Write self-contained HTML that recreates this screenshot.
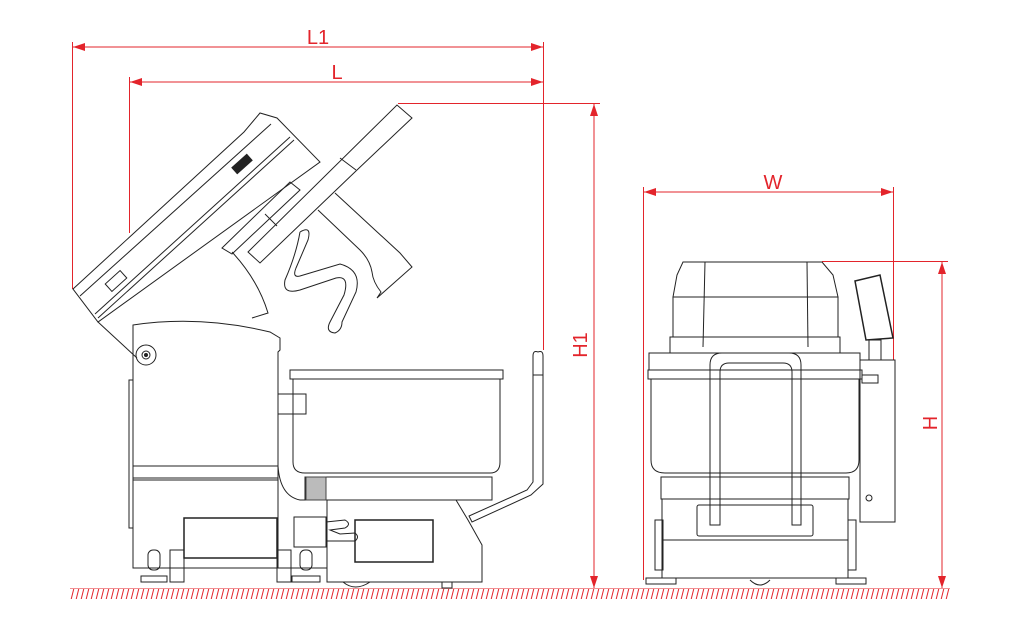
<!DOCTYPE html>
<html><head><meta charset="utf-8"><style>
html,body{margin:0;padding:0;background:#fff;width:1012px;height:629px;overflow:hidden}
svg{display:block}
text{font-family:"Liberation Sans",sans-serif;fill:#e3242b}
</style></head><body>
<svg width="1012" height="629" viewBox="0 0 1012 629" xmlns="http://www.w3.org/2000/svg">
<defs>
<pattern id="h" width="5" height="12" patternUnits="userSpaceOnUse">
<line x1="4" y1="0" x2="1" y2="12" stroke="#e3242b" stroke-width="1"/>
</pattern>
<marker id="a" markerWidth="12" markerHeight="8" refX="12" refY="4" orient="auto-start-reverse" markerUnits="userSpaceOnUse">
<path d="M0,0 L12,4 L0,8 Z" fill="#e3242b"/>
</marker>
</defs>
<rect x="70" y="589" width="880" height="10" fill="url(#h)"/>
<line x1="70" y1="588.5" x2="950" y2="588.5" stroke="#e3242b" stroke-width="0.6"/>
<g stroke="#e3242b" stroke-width="1" fill="none">
<line x1="73" y1="47" x2="543" y2="47" marker-start="url(#a)" marker-end="url(#a)"/>
<line x1="130" y1="82" x2="543" y2="82" marker-start="url(#a)" marker-end="url(#a)"/>
<line x1="72.5" y1="42" x2="72.5" y2="289"/>
<line x1="129.5" y1="77" x2="129.5" y2="233"/>
<line x1="543.5" y1="42" x2="543.5" y2="350"/>
<line x1="398" y1="103.5" x2="600" y2="103.5"/>
<line x1="594" y1="104" x2="594" y2="588" marker-start="url(#a)" marker-end="url(#a)"/>
<line x1="644" y1="192" x2="893" y2="192" marker-start="url(#a)" marker-end="url(#a)"/>
<line x1="643.5" y1="187" x2="643.5" y2="580"/>
<line x1="893.5" y1="187" x2="893.5" y2="360"/>
<line x1="822" y1="261.5" x2="948" y2="261.5"/>
<line x1="942" y1="262" x2="942" y2="588" marker-start="url(#a)" marker-end="url(#a)"/>
</g>
<text x="318" y="44" font-size="20" text-anchor="middle">L1</text>
<text x="337" y="79" font-size="20" text-anchor="middle">L</text>
<text x="773" y="189" font-size="20" text-anchor="middle">W</text>
<text transform="translate(587,345) rotate(-90)" font-size="20" text-anchor="middle">H1</text>
<text transform="translate(937,423) rotate(-90)" font-size="20" text-anchor="middle">H</text>

<g stroke="#222" stroke-width="1" fill="none">
<polygon points="73,289 244,132 260,113 277,118 320,162 98,322"/>
<line x1="80" y1="296" x2="271" y2="124"/>
<line x1="95" y1="314" x2="290" y2="137"/>
<line x1="98" y1="318" x2="294" y2="140"/>
<rect x="232" y="160" width="20" height="8" transform="rotate(-42 242 164)" fill="#222"/>
<rect x="106" y="276" width="20" height="10" transform="rotate(-42 116 281)"/>
<polygon points="248,252 397,105 412,118 357,170 260,263"/>
<line x1="340" y1="158" x2="356" y2="170"/>
<path d="M335,193 L400,253 L412,267 L377,298 L381,292 Q373,282 372,272 Q370,260 360,250 L318,210"/>
<polygon points="222,248 290,182 300,190 232,254"/>
<line x1="265" y1="214" x2="277" y2="226"/>
<path d="M232,252 Q258,280 268,313 L252,318" />
<path d="M300,232 Q296,255 285,280 Q282,295 300,290 L336,278 Q350,275 344,295 L330,322 Q325,332 335,333 Q342,330 342,322 L356,292 Q362,270 340,264 L300,276 Q292,278 296,268 L308,240 Q312,225 300,232" />
<path d="M133,325 Q200,315 270,332 L280,338 L280,350 L278,352 L278,466 L133,466 Z"/>
<circle cx="146" cy="355" r="10"/><circle cx="146" cy="355" r="4"/><circle cx="146" cy="355" r="1.5" fill="#222"/>
<line x1="98" y1="322" x2="137" y2="358"/>
<rect x="129" y="380" width="4" height="148"/>
<line x1="133" y1="478" x2="278" y2="478"/>
<line x1="133" y1="480" x2="278" y2="480"/>
<rect x="133" y="466" width="145" height="102"/>
<rect x="278" y="394" width="28" height="20"/>
<rect x="290" y="370" width="213" height="9"/>
<path d="M293,379 L293,462 Q293,473 305,473 L490,473 Q500,473 500,462 L500,379"/>
<rect x="305" y="477" width="187" height="23"/>
<path d="M278,466 Q280,496 300,500 L305,500"/>
<rect x="306" y="477" width="20" height="23" fill="#bbb" stroke="#444"/>
<path d="M327,500 L456,500 L468,520 L482,545 L482,582 L327,582 Z"/>
<rect x="184" y="518" width="93" height="40" stroke-width="1.5"/>
<rect x="355" y="520" width="78" height="42" stroke-width="1.5"/>
<rect x="294" y="517" width="32" height="30"/>
<path d="M326,522 L345,520 Q352,524 345,528 L330,530 L340,534 L355,533 Q360,537 355,541 L326,541"/>
<path d="M538,352 Q543,350 543,356 L543,484 L531,495 L472,522 L469,516 L527,490 L533,482 L533,356 Q533,350 538,352"/>
<line x1="533" y1="375" x2="543" y2="375"/>
<line x1="133" y1="568" x2="327" y2="568"/>
<rect x="148" y="550" width="12" height="20" rx="5"/>
<rect x="141" y="576" width="26" height="6"/>
<rect x="170" y="550" width="14" height="32"/>
<rect x="277" y="550" width="14" height="32"/>
<rect x="300" y="550" width="12" height="20" rx="5"/>
<rect x="292" y="576" width="28" height="6"/>
<path d="M343,582 Q355,592 370,582"/>
<rect x="442" y="582" width="10" height="6"/>
</g>

<g stroke="#222" stroke-width="1" fill="none">
<path d="M683,262 L822,262 L833,275 L838,297 L673,297 L677,275 Z"/>
<line x1="705" y1="262" x2="703" y2="347"/><line x1="807" y1="262" x2="808" y2="347"/>
<rect x="673" y="297" width="165" height="40"/>
<rect x="670" y="337" width="170" height="16"/>
<rect x="649" y="353" width="211" height="17"/>
<rect x="648" y="370" width="214" height="9"/>
<path d="M651,379 L651,460 Q651,473 665,473 L846,473 Q859,473 859,460 L859,379"/>
<rect x="661" y="477" width="188" height="22"/>
<rect x="662" y="499" width="186" height="79"/>
<line x1="662" y1="540" x2="848" y2="540"/>
<rect x="697" y="505" width="116" height="31" rx="2"/>
<path d="M710,525 L710,365 Q710,353 722,353 L789,353 Q801,353 801,365 L801,525 L792,525 L792,372 Q792,363 783,363 L729,363 Q720,363 720,372 L720,525 Z"/>
<rect x="860" y="360" width="35" height="162"/>
<rect x="862" y="375" width="16" height="8"/>
<circle cx="869" cy="498" r="3"/>
<polygon points="855,281 880,275 893,338 866,340" stroke-width="1.5"/>
<rect x="869" y="340" width="12" height="20"/>
<rect x="655" y="520" width="8" height="50"/>
<rect x="848" y="520" width="8" height="50"/>
<rect x="646" y="578" width="30" height="6"/>
<rect x="836" y="578" width="30" height="6"/>
<path d="M750,580 Q760,590 770,580"/>
</g>
</svg>
</body></html>
